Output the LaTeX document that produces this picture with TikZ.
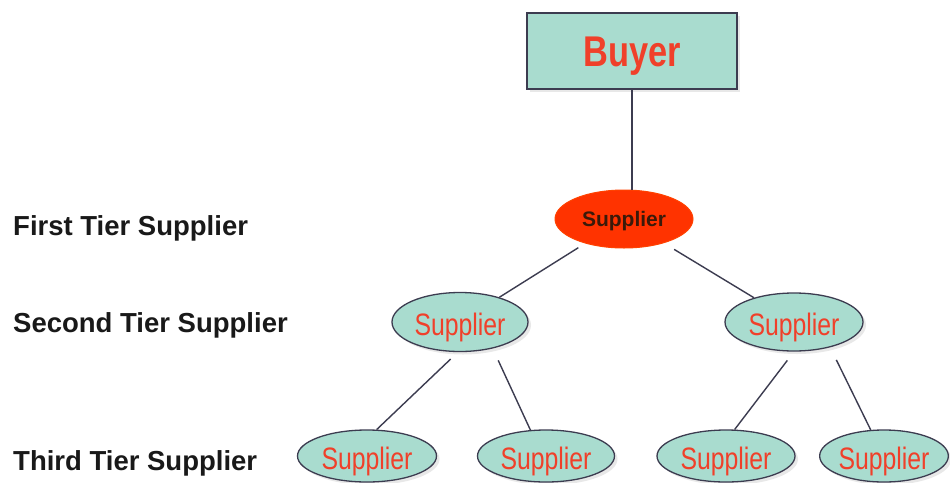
\documentclass[tikz,border=0pt]{standalone}
\usepackage{fontspec}
\usepackage{graphicx}
\setmainfont{Liberation Sans}
\usetikzlibrary{shapes.geometric,shadows}
\definecolor{tealfill}{HTML}{A9DCCF}
\definecolor{edgegray}{HTML}{3C3C50}
\definecolor{redtext}{HTML}{F0402A}
\definecolor{redfill}{HTML}{FF3300}
\definecolor{darktext}{HTML}{3A1A0A}
\tikzset{
  shade/.style={drop shadow={opacity=0.18, shadow xshift=3pt, shadow yshift=-3pt, fill=gray}},
  buyerbox/.style={rectangle, draw=edgegray, line width=1.5pt, fill=tealfill, inner sep=0pt,
    minimum width=210pt, minimum height=76pt, text height=33pt, text depth=2pt,
    text=redtext, font=\bfseries\fontsize{43}{50}\selectfont, shade},
  firsttier/.style={ellipse, fill=redfill, draw=redfill!80!orange, line width=1pt, inner sep=0pt,
    minimum width=138pt, minimum height=58pt, text height=17pt, text depth=2pt,
    text=darktext, font=\bfseries\fontsize{21}{24}\selectfont},
  supp/.style={ellipse, fill=tealfill, draw=edgegray, line width=1.3pt, inner sep=0pt,
    minimum width=138pt, minimum height=58pt, text height=29pt, text depth=3pt,
    text=redtext, font=\fontsize{31}{36}\selectfont, shade},
  tierlabel/.style={anchor=base west, inner sep=0pt, font=\bfseries\fontsize{27.5}{32}\selectfont, text=black!90},
  link/.style={draw=edgegray, line width=1.4pt}
}
\newcommand{\narrowtext}[1]{\scalebox{0.8}[1]{#1}}
\begin{document}
\begin{tikzpicture}[x=1pt,y=-1pt]
\useasboundingbox[fill=white] (0,0) rectangle (950,482);
% nodes
\node[buyerbox] (buyer) at (632,51) {\narrowtext{Buyer}};
\node[firsttier] (s1) at (624,219) {Supplier};
\node[supp, minimum width=136pt, minimum height=59pt] (s2a) at (460,322) {\narrowtext{Supplier}};
\node[supp] (s2b) at (794,322) {\narrowtext{Supplier}};
\node[supp, minimum width=139pt, minimum height=52pt] (s3a) at (367,456) {\narrowtext{Supplier}};
\node[supp, minimum width=137pt, minimum height=52pt] (s3b) at (546,456) {\narrowtext{Supplier}};
\node[supp, minimum width=138pt, minimum height=52pt] (s3c) at (726,456) {\narrowtext{Supplier}};
\node[supp, minimum width=128pt, minimum height=52pt] (s3d) at (884,456) {\narrowtext{Supplier}};
% tier labels
\node[tierlabel] (l1) at (13,235) {First Tier Supplier};
\node[tierlabel] (l2) at (13,332) {Second Tier Supplier};
\node[tierlabel] (l3) at (13,470) {Third Tier Supplier};
% connectors
\draw[link] (buyer.south) -- (buyer.south |- s1.north);
\draw[link, shorten <=8pt] (s1) -- (s2a);
\draw[link, shorten <=12pt] (s1) -- (s2b);
\draw[link, shorten <=10pt] (s2a.266) -- (s3a.70);
\draw[link, shorten <=13pt] (s2a.321) -- (s3b.121);
\draw[link, shorten <=11pt] (s2b.south) -- (s3c.72);
\draw[link, shorten <=14pt] (s2b.325) -- (s3d.117);
\end{tikzpicture}
\end{document}
